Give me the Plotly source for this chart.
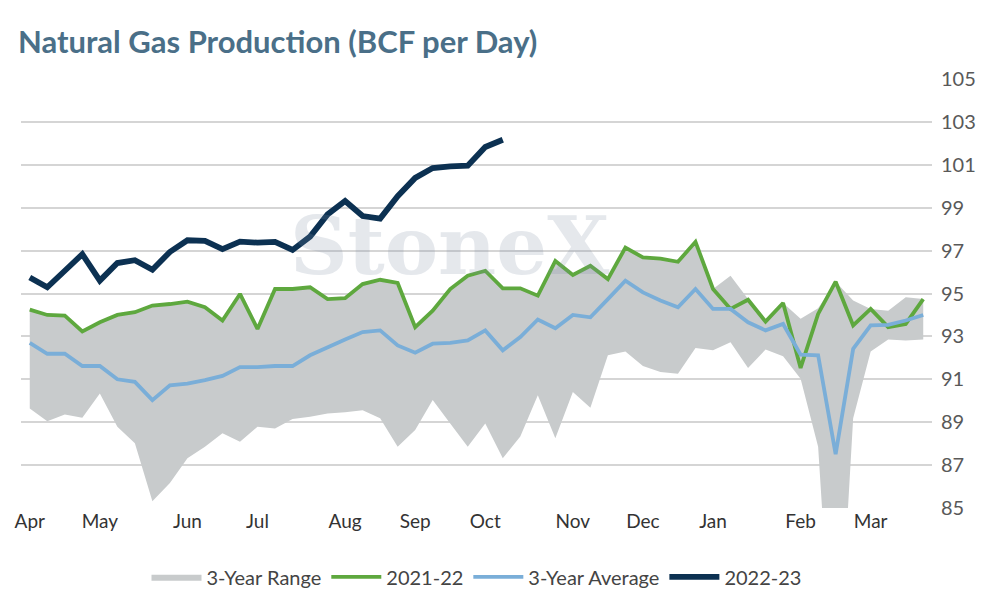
import plotly.graph_objects as go

weeks = list(range(52))

range_low = [89.64, 89.05, 89.36, 89.21, 90.34, 88.79, 88.02, 85.31, 86.16, 87.32,
             87.86, 88.48, 88.09, 88.79, 88.71, 89.15, 89.25, 89.41, 89.46, 89.56,
             89.18, 87.86, 88.64, 90.03, 88.94, 87.86, 88.94, 87.32, 88.33, 90.26,
             88.25, 90.41, 89.67, 92.12, 92.30, 91.62, 91.34, 91.26, 92.46, 92.35,
             92.73, 91.53, 92.39, 92.08, 91.03, 87.86, 75.00, 89.18, 92.30, 92.86,
             92.81, 92.86]

y2021 = [94.25, 94.00, 93.97, 93.23, 93.66, 94.00, 94.13, 94.44, 94.51, 94.62,
         94.36, 93.74, 94.98, 93.35, 95.21, 95.21, 95.29, 94.74, 94.78, 95.44,
         95.64, 95.49, 93.43, 94.20, 95.21, 95.83, 96.06, 95.24, 95.24, 94.90,
         96.52, 95.86, 96.29, 95.67, 97.14, 96.68, 96.63, 96.48, 97.41, 95.21,
         94.28, 94.71, 93.69, 94.56, 91.53, 94.05, 95.55, 93.51, 94.28, 93.43,
         93.58, 94.74]

range_high = y2021[:40] + [95.83, 94.74, 93.74, 94.56, 93.82, 94.31, 95.55, 94.67,
                           94.28, 94.20, 94.82, 94.74]

avg3 = [92.70, 92.19, 92.19, 91.62, 91.62, 91.00, 90.88, 90.03, 90.72, 90.80,
        90.96, 91.16, 91.57, 91.57, 91.62, 91.62, 92.12, 92.50, 92.86, 93.20,
        93.28, 92.58, 92.24, 92.66, 92.70, 92.81, 93.28, 92.35, 92.97, 93.79,
        93.38, 94.00, 93.89, 94.74, 95.60, 95.05, 94.67, 94.36, 95.21, 94.28,
        94.28, 93.66, 93.28, 93.58, 92.15, 92.12, 87.51, 92.42, 93.51, 93.54,
        93.74, 94.00]

y2022 = [95.75, 95.29, 96.06, 96.83, 95.60, 96.42, 96.55, 96.11, 96.94, 97.48,
         97.45, 97.07, 97.42, 97.37, 97.41, 97.03, 97.65, 98.69, 99.31, 98.61,
         98.49, 99.54, 100.39, 100.85, 100.93, 100.96, 101.83, 102.17]

month_pos = [0, 4, 9, 13, 18, 22, 26, 31, 35, 39, 44, 48]
month_labels = ["Apr", "May", "Jun", "Jul", "Aug", "Sep", "Oct", "Nov", "Dec", "Jan", "Feb", "Mar"]

fig = go.Figure()
fig.add_trace(go.Scatter(x=weeks, y=range_low, mode="lines", line=dict(width=0, color="#c8cbcc"),
                         showlegend=False, hoverinfo="skip"))
fig.add_trace(go.Scatter(x=weeks, y=range_high, mode="lines", line=dict(width=0, color="#c8cbcc"),
                         fill="tonexty", fillcolor="#c8cbcc", name="3-Year Range"))
fig.add_trace(go.Scatter(x=weeks, y=y2021, mode="lines", line=dict(color="#5ea83e", width=3.8),
                         name="2021-22"))
fig.add_trace(go.Scatter(x=weeks, y=avg3, mode="lines", line=dict(color="#7aaed8", width=3.8),
                         name="3-Year Average"))
fig.add_trace(go.Scatter(x=weeks[:len(y2022)], y=y2022, mode="lines",
                         line=dict(color="#0c3152", width=5.8), name="2022-23"))

# watermark
fig.add_annotation(x=0.47, y=0.61, xref="paper", yref="paper", text="StoneX",
                   showarrow=False, opacity=0.2,
                   font=dict(family="DejaVu Serif", size=80, color="#7f8fa6", weight="bold"))

fig.update_layout(
    width=994, height=600,
    margin=dict(l=13, r=70, t=71, b=98),
    paper_bgcolor="white", plot_bgcolor="white",
    font=dict(family="Lato", color="#444444"),
    title=dict(text="Natural Gas Production (BCF per Day)", x=0.01, y=0.962,
               xanchor="left", yanchor="top",
               font=dict(family="Lato", size=31, color="#4a6f88", weight="bold")),
    xaxis=dict(range=[-0.5, 51.5], tickvals=month_pos, ticktext=month_labels,
               showgrid=False, zeroline=False, showline=False, ticks="", automargin=False,
               tickfont=dict(size=19, color="#333333")),
    yaxis=dict(range=[85, 105], dtick=2, tick0=85, side="right", automargin=False,
               gridcolor="#d5d5d5", gridwidth=1.5, zeroline=False,
               tickfont=dict(size=20, color="#595959"), ticklabelstandoff=8),
    legend=dict(orientation="h", x=0.5, xanchor="center", y=-0.115, yanchor="top",
                font=dict(size=20, color="#444444"), traceorder="normal",
                itemwidth=50),
    showlegend=True,
)

fig.write_html("out.html")
